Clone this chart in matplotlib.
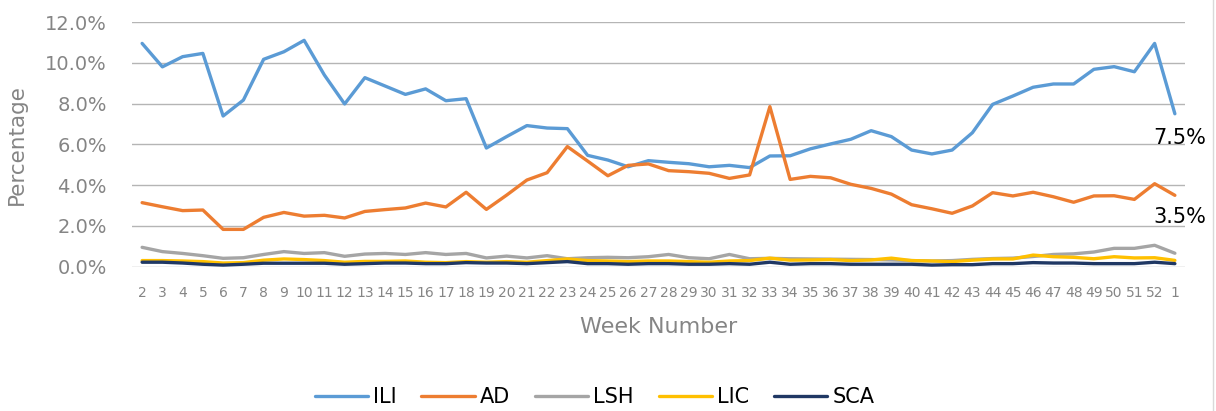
import numpy as np
import matplotlib
matplotlib.use("Agg")
import matplotlib.pyplot as plt
from matplotlib.lines import Line2D
from matplotlib.ticker import FuncFormatter

plt.rcParams["font.family"] = ["DejaVu Sans"]

## Donnees (pourcentages)
weeks = [str(w) for w in range(2, 53)] + ["1"]

ili = [10.95, 9.8, 10.3, 10.46, 7.39, 8.17, 10.17, 10.54, 11.1, 9.4,
       7.98, 9.27, 8.86, 8.45, 8.72, 8.14, 8.24, 5.82, 6.38, 6.92,
       6.8, 6.77, 5.46, 5.23, 4.9, 5.2, 5.12, 5.05, 4.9, 4.97,
       4.86, 5.43, 5.44, 5.78, 6.02, 6.25, 6.67, 6.38, 5.72, 5.53,
       5.72, 6.57, 7.96, 8.37, 8.8, 8.96, 8.96, 9.68, 9.81, 9.56,
       10.95, 7.5]
ad = [3.14, 2.94, 2.75, 2.78, 1.83, 1.83, 2.42, 2.66, 2.48, 2.52,
      2.39, 2.71, 2.8, 2.88, 3.12, 2.93, 3.65, 2.81, 3.51, 4.25,
      4.61, 5.89, 5.18, 4.46, 4.97, 5.04, 4.71, 4.66, 4.58, 4.33,
      4.5, 7.85, 4.28, 4.43, 4.36, 4.04, 3.84, 3.56, 3.04, 2.84,
      2.62, 2.98, 3.63, 3.47, 3.65, 3.43, 3.16, 3.47, 3.48, 3.3,
      4.07, 3.5]
lsh = [0.95, 0.74, 0.65, 0.54, 0.41, 0.44, 0.6, 0.74, 0.65, 0.69,
       0.51, 0.62, 0.65, 0.6, 0.69, 0.6, 0.65, 0.43, 0.52, 0.43,
       0.54, 0.39, 0.44, 0.46, 0.44, 0.49, 0.6, 0.44, 0.39, 0.6,
       0.39, 0.41, 0.39, 0.38, 0.37, 0.36, 0.35, 0.33, 0.3, 0.28,
       0.3, 0.36, 0.4, 0.42, 0.5, 0.6, 0.63, 0.72, 0.9, 0.9,
       1.05, 0.66]
lic = [0.3, 0.3, 0.28, 0.25, 0.18, 0.2, 0.32, 0.38, 0.35, 0.3,
       0.22, 0.26, 0.26, 0.28, 0.22, 0.2, 0.25, 0.22, 0.25, 0.22,
       0.3, 0.38, 0.3, 0.28, 0.25, 0.28, 0.28, 0.25, 0.22, 0.28,
       0.3, 0.42, 0.32, 0.33, 0.35, 0.3, 0.33, 0.42, 0.3, 0.28,
       0.25, 0.32, 0.38, 0.38, 0.57, 0.49, 0.46, 0.39, 0.49, 0.43,
       0.44, 0.31]
sca = [0.22, 0.22, 0.18, 0.12, 0.08, 0.12, 0.17, 0.17, 0.17, 0.17,
       0.12, 0.15, 0.18, 0.18, 0.15, 0.15, 0.2, 0.18, 0.18, 0.15,
       0.2, 0.25, 0.15, 0.15, 0.12, 0.15, 0.15, 0.12, 0.12, 0.15,
       0.12, 0.22, 0.12, 0.15, 0.15, 0.12, 0.12, 0.12, 0.12, 0.08,
       0.1, 0.1, 0.15, 0.15, 0.2, 0.18, 0.18, 0.15, 0.15, 0.15,
       0.22, 0.15]

series = [("ILI", ili, "#5B9BD5"),
          ("AD", ad, "#ED7D31"),
          ("LSH", lsh, "#A5A5A5"),
          ("LIC", lic, "#FFC000"),
          ("SCA", sca, "#203864")]

fig = plt.figure(figsize=(12.16, 4.11), dpi=100)
ax = fig.add_axes([132/1216, 1 - 266.7/411, (1185-132)/1216, (266.7-22)/411])

x = np.arange(len(weeks))
for name, vals, col in series:
    ax.plot(x, vals, color=col, lw=2.4, label=name, solid_capstyle="round")

# etiquettes de la derniere semaine
ax.annotate(f"{ili[-1]:.1f}%", (x[-1], ili[-1]), xytext=(5, -24), textcoords="offset pixels",
            ha="center", va="center", fontsize=15, color="black")
ax.annotate(f"{ad[-1]:.1f}%", (x[-1], ad[-1]), xytext=(5, -22), textcoords="offset pixels",
            ha="center", va="center", fontsize=15, color="black")

ax.set_xlim(-0.5, len(weeks) - 0.5)
ax.set_ylim(0, 12)
ax.set_yticks(np.arange(0, 12.1, 2))
ax.yaxis.set_major_formatter(FuncFormatter(lambda v, p: f"{v:.1f}%"))
ax.set_xticks(x)
ax.set_xticklabels(weeks)
ax.tick_params(axis="x", length=0, labelsize=10, colors="#858585", pad=14)
ax.tick_params(axis="y", length=0, labelsize=14, colors="#858585", pad=18)
ax.grid(axis="y", color="#b5b5b5", lw=1)
ax.set_axisbelow(True)
for s in ax.spines.values():
    s.set_visible(False)

ax.set_ylabel("Percentage", fontsize=15.5, color="#858585", labelpad=13)
ax.set_xlabel("Week Number", fontsize=16, color="#858585", labelpad=12)

fig.legend(loc="center", bbox_to_anchor=(0.489, 0.033), ncol=5, frameon=False,
           fontsize=15, handlelength=2.55, columnspacing=1.2, handletextpad=0.25)

# bord droit du cadre
fig.add_artist(Line2D([1213/1216, 1213/1216], [0, 1], color="#d9d9d9", lw=1))

fig.savefig("out.png", dpi=100)
